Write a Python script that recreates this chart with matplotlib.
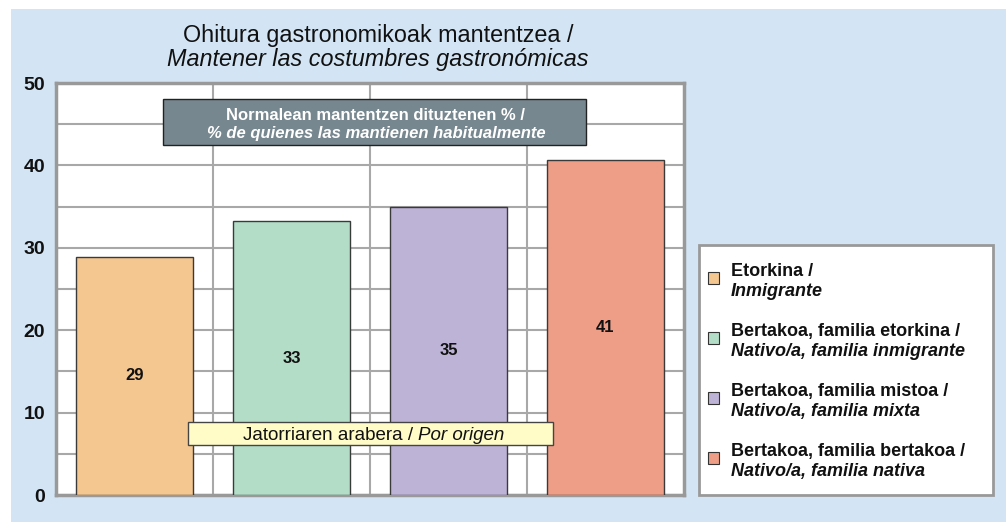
"""
Ohitura gastronomikoak mantentzea / Mantener las costumbres gastronómicas
"""

import matplotlib
matplotlib.use("Agg")
import matplotlib.pyplot as plt
from matplotlib.patches import Rectangle

plt.rcParams["font.family"] = ["Liberation Sans", "DejaVu Sans"]

# data
categories_eu = [
    "Etorkina /",
    "Bertakoa, familia etorkina /",
    "Bertakoa, familia mistoa /",
    "Bertakoa, familia bertakoa /",
]
categories_es = [
    "Inmigrante",
    "Nativo/a, familia inmigrante",
    "Nativo/a, familia mixta",
    "Nativo/a, familia nativa",
]
values = [28.9, 33.2, 35.0, 40.7]
value_labels = ["29", "33", "35", "41"]
yticks = [0, 10, 20, 30, 40, 50]

colors = ["#F4C690", "#B3DDC7", "#BDB3D6", "#EE9D86"]
W, H = 1006, 522


def fx(px):
    return px / W


def fy(py):
    return 1 - py / H


fig = plt.figure(figsize=(W / 100, H / 100), dpi=100, facecolor="white")

# light blue panel
fig.add_artist(Rectangle((fx(11), 0), 1 - fx(11), fy(9), transform=fig.transFigure,
                         facecolor="#D3E5F4", edgecolor="none", zorder=-10))

ax = fig.add_axes([fx(56), fy(495), fx(684) - fx(56), fy(83) - fy(495)])
ax.set_facecolor("white")

x = range(len(values))
bars = ax.bar(x, values, width=0.75, color=colors, edgecolor="#3a3a3a", linewidth=1.0, zorder=3)
ax.bar_label(bars, labels=value_labels, label_type="center", fontsize=12, fontweight="bold",
             color="#111111", zorder=4)

ax.set_xlim(-0.5, 3.5)
ax.set_ylim(0, 50)
ax.set_xticks([0.5, 1.5, 2.5])
ax.set_xticklabels([])
ax.set_yticks(yticks)
ax.set_yticks(range(5, 50, 10), minor=True)
ax.set_yticklabels([str(t) for t in yticks], fontsize=14, fontweight="bold", color="#111111")
ax.tick_params(axis="both", which="both", length=0, pad=8)
ax.grid(True, which="both", color="#a8a8a8", linewidth=1.5, zorder=0)
ax.set_axisbelow(True)
for s in ax.spines.values():
    s.set_color("#999999")
    s.set_linewidth(2.5)

# title
fig.text(fx(378), fy(42), "Ohitura gastronomikoak mantentzea /", ha="center", va="baseline",
         fontsize=16.8, color="#111111")
fig.text(fx(378), fy(66), "Mantener las costumbres gastronómicas", ha="center", va="baseline",
         fontsize=16.8, style="italic", color="#111111")

# dark note box
fig.add_artist(Rectangle((fx(163), fy(145)), fx(586) - fx(163), fy(99) - fy(145),
                         transform=fig.transFigure, facecolor="#77878F", edgecolor="#222222",
                         linewidth=1.0, zorder=5))
fig.text(fx(376), fy(120), "Normalean mantentzen dituztenen % /", ha="center", va="baseline",
         fontsize=12, fontweight="bold", color="white", zorder=6)
fig.text(fx(376), fy(138), "% de quienes las mantienen habitualmente", ha="center", va="baseline",
         fontsize=12, fontweight="bold", style="italic", color="white", zorder=6)

# yellow origin box
fig.add_artist(Rectangle((fx(188), fy(445)), fx(553) - fx(188), fy(422) - fy(445),
                         transform=fig.transFigure, facecolor="#FFFCC8", edgecolor="#444444",
                         linewidth=1.0, zorder=5))
t1 = fig.text(fx(243), fy(440), "Jatorriaren arabera / ", ha="left", va="baseline",
              fontsize=13.5, color="#111111", zorder=6)
fig.canvas.draw()
bb = t1.get_window_extent()
fig.text(bb.x1 / W, fy(440), "Por origen", ha="left", va="baseline",
         fontsize=13.5, style="italic", color="#111111", zorder=6)

# legend box
fig.add_artist(Rectangle((fx(699), fy(495)), fx(993) - fx(699), fy(245) - fy(495),
                         transform=fig.transFigure, facecolor="white", edgecolor="#999999",
                         linewidth=2.0, zorder=5))
line1_y = [271, 331, 391, 451]
for i in range(len(categories_eu)):
    y1 = line1_y[i]
    fig.add_artist(Rectangle((fx(708), fy(y1 + 13)), fx(719) - fx(708), fy(y1 + 1) - fy(y1 + 13),
                             transform=fig.transFigure, facecolor=colors[i], edgecolor="#333333",
                             linewidth=0.8, zorder=6))
    fig.text(fx(731), fy(y1 + 5), categories_eu[i], ha="left", va="baseline", fontsize=13,
             fontweight="bold", color="#111111", zorder=6)
    fig.text(fx(731), fy(y1 + 25), categories_es[i], ha="left", va="baseline", fontsize=13,
             fontweight="bold", style="italic", color="#111111", zorder=6)

plt.savefig("out.png", dpi=100, facecolor=fig.get_facecolor())
